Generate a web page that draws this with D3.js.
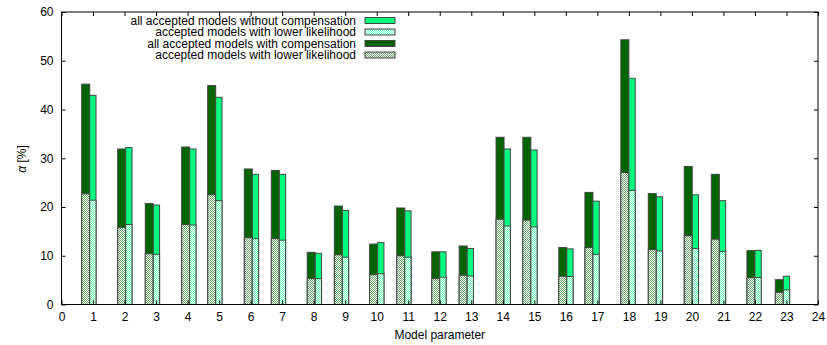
<!DOCTYPE html>
<html><head><meta charset="utf-8">
<script src="https://cdn.jsdelivr.net/npm/d3@7/dist/d3.min.js"></script>
<style>body{margin:0;background:#fff}svg{display:block}text{font-family:"Liberation Sans",Arial,Helvetica,sans-serif;font-size:12px;fill:#000}</style>
</head><body><svg id="c" width="827" height="345"></svg>
<script>
// Model parameter index
const params = [1,2,3,4,5,6,7,8,9,10,11,12,13,14,15,16,17,18,19,20,21,22,23];
// x position (axis units) of the boundary between the two bars of each group
const barPos = [0.895,2.037,2.912,4.067,4.892,6.053,6.91,8.05,8.91,10.03,10.89,12.0,12.87,14.04,14.89,16.03,16.86,18.0,18.87,20.01,20.87,22.0,22.9];
// with compensation
const withCompAll   = [45.2,31.9,20.7,32.3,44.9,27.8,27.5,10.7,20.2,12.4,19.8,10.8,12.0,34.3,34.3,11.7,23.0,54.3,22.75,28.3,26.7,11.05,5.1];
const withCompLower = [22.7,15.8,10.4,16.4,22.5,13.7,13.5,5.3,10.2,6.1,10.0,5.3,6.0,17.5,17.3,5.8,11.7,27.1,11.25,14.1,13.4,5.5,2.5];
// without compensation
const noCompAll     = [42.9,32.2,20.4,31.9,42.5,26.7,26.7,10.5,19.3,12.7,19.2,10.8,11.5,31.9,31.7,11.4,21.2,46.4,22.1,22.5,21.3,11.1,5.8];
const noCompLower   = [21.4,16.4,10.3,16.3,21.3,13.5,13.2,5.3,9.7,6.3,9.7,5.6,5.85,16.1,15.9,5.75,10.3,23.4,11.0,11.5,10.9,5.55,3.0];
const xTicks = d3.range(0,25,1);
const yTicks = [0,10,20,30,40,50,60];
const legendLabels = ["all accepted models without compensation","accepted models with lower likelihood","all accepted models with compensation","accepted models with lower likelihood"];

const darkGreen = "#006400", springGreen = "#00ff7f";
const svg = d3.select("#c");
const L=61.5, R=818, T=12, B=304.5;
const x = d3.scaleLinear().domain([0,24]).range([L,R]);
const y = d3.scaleLinear().domain([0,60]).range([B,T]);
const wDark = 0.254, wLight = 0.2;

const defs = svg.append("defs");
function hatch(id, col){
  const p = defs.append("pattern").attr("id",id).attr("patternUnits","userSpaceOnUse").attr("width",2).attr("height",2);
  p.append("rect").attr("width",2).attr("height",2).attr("fill","#fff");
  [[0,0],[1,1]].forEach(([a,b])=>p.append("rect").attr("x",a).attr("y",b).attr("width",1).attr("height",1).attr("fill",col).attr("fill-opacity",0.6));
}
hatch("hDark", darkGreen);
hatch("hLight", springGreen);

const data = params.map((p,i)=>({p, b:barPos[i], da:withCompAll[i], dl:withCompLower[i], la:noCompAll[i], ll:noCompLower[i]}));
const g = svg.append("g").attr("stroke","#444").attr("stroke-width",1);
function bars(cls, x0f, x1f, vf, fill){
  g.selectAll("rect."+cls).data(data).join("rect").attr("class",cls)
   .attr("x",d=>x(x0f(d))).attr("width",d=>x(x1f(d))-x(x0f(d)))
   .attr("y",d=>y(vf(d))).attr("height",d=>y(0)-y(vf(d))).attr("fill",fill);
}
bars("da", d=>d.b-wDark, d=>d.b, d=>d.da, darkGreen);
bars("dl", d=>d.b-wDark, d=>d.b, d=>d.dl, "url(#hDark)");
bars("la", d=>d.b, d=>d.b+wLight, d=>d.la, springGreen);
bars("ll", d=>d.b, d=>d.b+wLight, d=>d.ll, "url(#hLight)");

// axes
function styleAxis(sel){ sel.select(".domain").remove(); sel.selectAll("line").attr("stroke","#000"); sel.selectAll("text").attr("font-size",12).attr("font-family",null).attr("fill","#000"); }
svg.append("g").attr("transform",`translate(0,${B})`).call(d3.axisBottom(x).tickValues(xTicks).tickSizeInner(-4).tickSizeOuter(0).tickPadding(8)).call(styleAxis);
svg.append("g").attr("transform",`translate(0,${T})`).call(d3.axisTop(x).tickValues(xTicks).tickSizeInner(-4).tickSizeOuter(0).tickFormat("")).call(styleAxis);
svg.append("g").attr("transform",`translate(${L},0)`).call(d3.axisLeft(y).tickValues(yTicks).tickSizeInner(-4).tickSizeOuter(0).tickPadding(8)).call(styleAxis);
svg.append("g").attr("transform",`translate(${R},0)`).call(d3.axisRight(y).tickValues(yTicks).tickSizeInner(-4).tickSizeOuter(0).tickFormat("")).call(styleAxis);
svg.append("rect").attr("x",L).attr("y",T).attr("width",R-L).attr("height",B-T).attr("fill","none").attr("stroke","#000").attr("stroke-width",1);

// axis titles
svg.append("text").attr("x",(L+R)/2).attr("y",339).attr("text-anchor","middle").text("Model parameter");
svg.append("text").attr("transform","translate(26,159) rotate(-90)").attr("text-anchor","middle")
  .html('<tspan font-style="italic">α</tspan> [%]');

// legend
const legFills = [springGreen,"url(#hLight)",darkGreen,"url(#hDark)"];
const lg = svg.append("g");
legendLabels.forEach((t,i)=>{
  const cy = 20.5 + i*11.5;
  lg.append("text").attr("x",356).attr("y",cy+4).attr("text-anchor","end").attr("font-size",11.8).text(t);
  lg.append("rect").attr("x",365).attr("y",cy-3).attr("width",30).attr("height",6).attr("fill",legFills[i]).attr("stroke","#444").attr("stroke-width",1);
});
</script></body></html>
